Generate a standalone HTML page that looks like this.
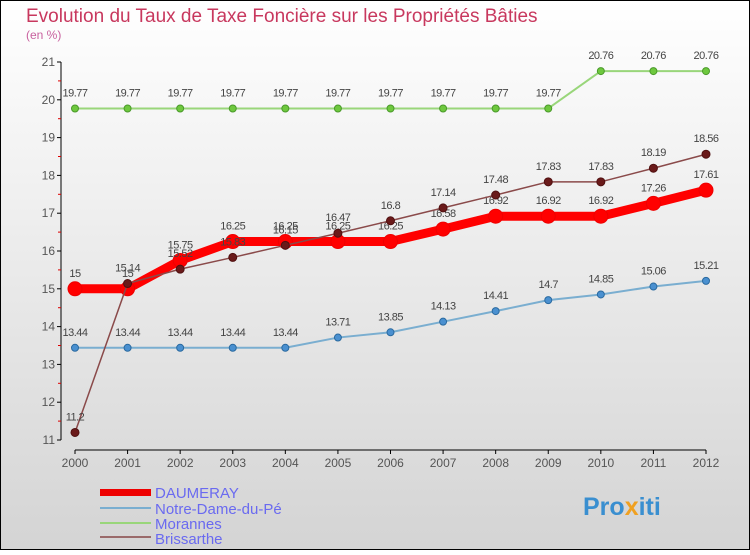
<!DOCTYPE html>
<html><head><meta charset="utf-8"><style>
body{margin:0}
svg text{font-family:"Liberation Sans",sans-serif}
</style></head><body>
<svg id="c" width="750" height="550" viewBox="0 0 750 550" xmlns="http://www.w3.org/2000/svg">
<defs><linearGradient id="bg" x1="0" y1="0" x2="0" y2="1"><stop offset="0" stop-color="#ffffff"/><stop offset="1" stop-color="#d4d4d4"/></linearGradient></defs>
<rect x="0.5" y="0.5" width="749" height="549" fill="url(#bg)" stroke="#000"/>
<text x="26" y="22" font-size="19" fill="#c8385e">Evolution du Taux de Taxe Foncière sur les Propriétés Bâties</text>
<text x="26" y="39" font-size="12" fill="#c8609e">(en %)</text>
<g id="axes"></g><g id="series"></g>
<g>
<rect x="100" y="489" width="51" height="7" fill="#e00"/>
<text x="155" y="498" font-size="15" fill="#6a6af0">DAUMERAY</text>
<line x1="100" y1="508" x2="151" y2="508" stroke="#7aaed0" stroke-width="2"/>
<text x="155" y="514" font-size="15" fill="#6a6af0">Notre-Dame-du-Pé</text>
<line x1="100" y1="523" x2="151" y2="523" stroke="#99d67a" stroke-width="2"/>
<text x="155" y="529" font-size="15" fill="#6a6af0">Morannes</text>
<line x1="100" y1="537" x2="151" y2="537" stroke="#9a6a6a" stroke-width="2"/>
<text x="155" y="544" font-size="15" fill="#6a6af0">Brissarthe</text>
</g>
<g><text x="583" y="515" font-size="25" font-weight="bold" fill="#3a8fd0">Pro<tspan fill="#f0a020">x</tspan>iti</text></g>
</svg>
<script>
const years=[2000,2001,2002,2003,2004,2005,2006,2007,2008,2009,2010,2011,2012];
const yTicks=[11,12,13,14,15,16,17,18,19,20,21];
const daumeray=[15,15,15.75,16.25,16.25,16.25,16.25,16.58,16.92,16.92,16.92,17.26,17.61];
const notreDame=[13.44,13.44,13.44,13.44,13.44,13.71,13.85,14.13,14.41,14.7,14.85,15.06,15.21];
const morannes=[19.77,19.77,19.77,19.77,19.77,19.77,19.77,19.77,19.77,19.77,20.76,20.76,20.76];
const brissarthe=[11.2,15.14,15.52,15.83,16.15,16.47,16.8,17.14,17.48,17.83,17.83,18.19,18.56];
const NS="http://www.w3.org/2000/svg";
const X=i=>75+i*(706-75)/(years.length-1);
const Y=v=>440-(v-11)*37.8;
function mk(p,t,a){const e=document.createElementNS(NS,t);for(const k in a)e.setAttribute(k,a[k]);p.appendChild(e);return e;}
const ax=document.getElementById('axes'),sg=document.getElementById('series');
const ya=mk(ax,'line',{x1:61,y1:Y(21),x2:61,y2:Y(11),stroke:'#000'});


yTicks.forEach(v=>{mk(ax,'line',{x1:57,y1:Y(v),x2:61,y2:Y(v),stroke:'#000'});
 if(v<21)mk(ax,'line',{x1:58,y1:Y(v+0.5),x2:61,y2:Y(v+0.5),stroke:'#d00'});
 const t=mk(ax,'text',{x:55,y:Y(v)+4,'font-size':12,fill:'#555','text-anchor':'end'});t.textContent=v;
 
 });
const xa=mk(ax,'line',{x1:75,y1:450,x2:706,y2:450,stroke:'#000'});


years.forEach((y,i)=>{mk(ax,'line',{x1:X(i),y1:450,x2:X(i),y2:454,stroke:'#000'});
 const t=mk(ax,'text',{x:X(i),y:467,'font-size':12,fill:'#555','text-anchor':'middle'});t.textContent=y;
 
 });
function series(d,name,color,w,r,dot,lc){
 const g=mk(sg,'g',{});
 
 
 mk(g,'polyline',{points:d.map((v,i)=>X(i)+','+Y(v)).join(' '),fill:'none',stroke:color,'stroke-width':w,'stroke-linejoin':'round'});
 d.forEach((v,i)=>{const c=mk(g,'circle',{cx:X(i),cy:Y(v),r:r,fill:dot,stroke:lc,'stroke-width':1});
  
  
  const t=mk(g,'text',{x:X(i),y:Y(v)-12,'font-size':11,fill:'#444','text-anchor':'middle','letter-spacing':'-0.5'});t.textContent=v;
  
  });
}
series(morannes,'morannes','#99d67a',2,3.5,'#6ec83e','#4a9a2a');
series(notreDame,'notre-dame','#7aaed0',2,3.5,'#4a90d0','#2a6aa0');
series(daumeray,'daumeray','#f00',9,7,'#f00','#e00');
series(brissarthe,'brissarthe','#8a4a4a',1.5,4,'#6a1a1a','#501010');
</script>
</body></html>
